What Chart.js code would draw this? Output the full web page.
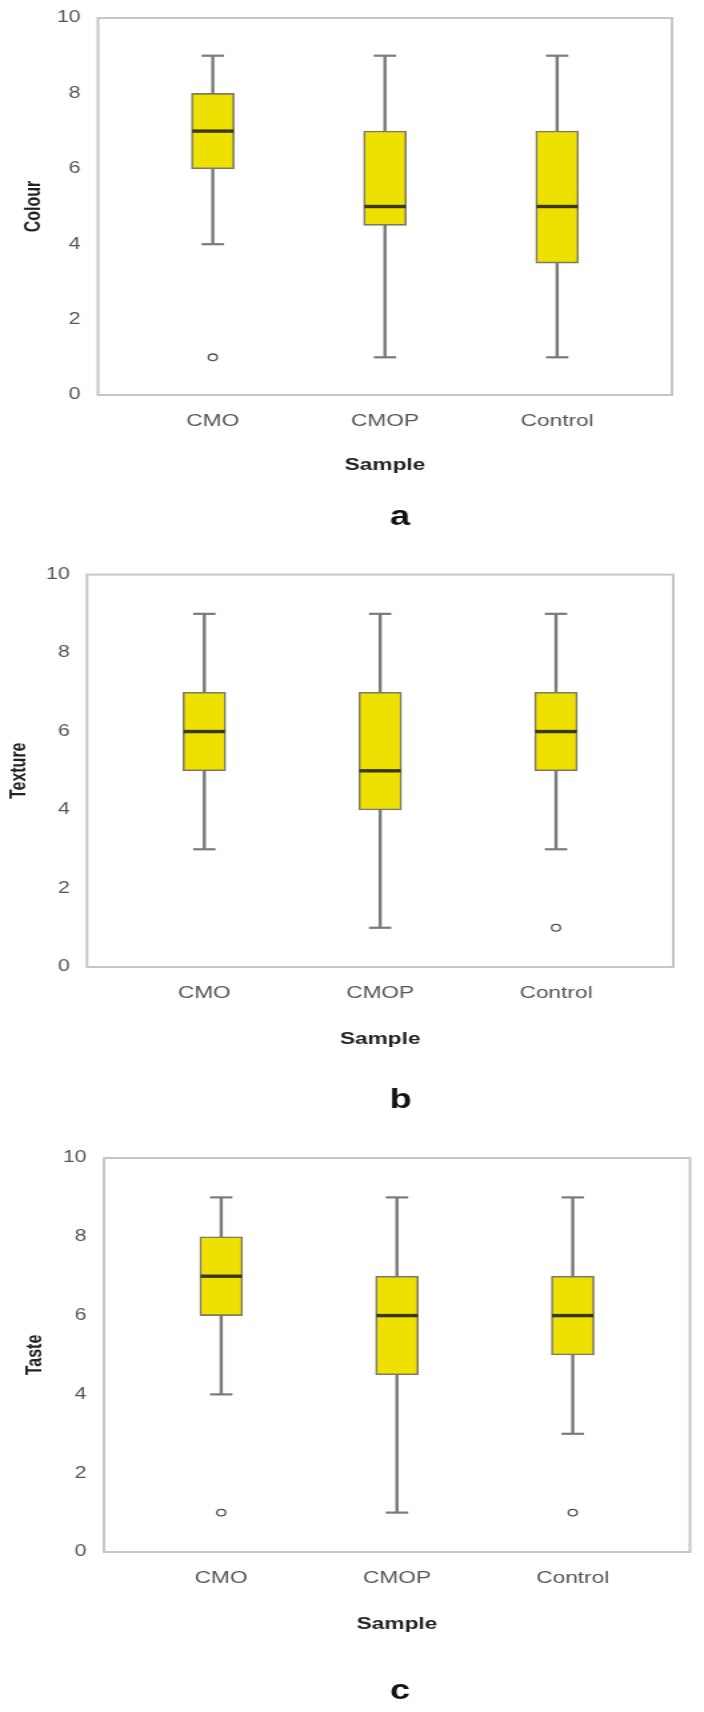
<!DOCTYPE html>
<html>
<head>
<meta charset="utf-8">
<script src="https://cdn.jsdelivr.net/npm/chart.js@4.4.1/dist/chart.umd.min.js"></script>
<style>
  body { margin: 0; background: #fff; width: 704px; height: 1712px; position: relative; overflow: hidden; }
  canvas { position: absolute; left: 0; }
</style>
</head>
<body>
<!-- the original figure is stretched sideways, so each canvas is drawn narrow and widened by css -->
<canvas id="colourChart" width="528" height="560" style="top:0px;width:704px;height:560px"></canvas>
<canvas id="textureChart" width="528" height="560" style="top:560px;width:704px;height:560px"></canvas>
<canvas id="tasteChart" width="528" height="592" style="top:1120px;width:704px;height:592px"></canvas>
<script>
const samples = ['CMO', 'CMOP', 'Control'];
const yTicks = [0, 2, 4, 6, 8, 10];

// Colour scores
const colourMin = [4, 1, 1];
const colourQ1 = [6, 4.5, 3.5];
const colourMedian = [7, 5, 5];
const colourQ3 = [8, 7, 7];
const colourMax = [9, 9, 9];
const colourOutliers = [[1], [], []];

// Texture scores
const textureMin = [3, 1, 3];
const textureQ1 = [5, 4, 5];
const textureMedian = [6, 5, 6];
const textureQ3 = [7, 7, 7];
const textureMax = [9, 9, 9];
const textureOutliers = [[], [], [1]];

// Taste scores
const tasteMin = [4, 1, 3];
const tasteQ1 = [6, 4.5, 5];
const tasteMedian = [7, 6, 6];
const tasteQ3 = [8, 7, 7];
const tasteMax = [9, 9, 9];
const tasteOutliers = [[1], [], [1]];

const FONT = "'Liberation Sans', Arial, sans-serif";
Chart.defaults.font.family = FONT;

// grey frame round the plot area
const frame = {
    id: 'frame',
    beforeDatasetsDraw(chart) {
        const { ctx, chartArea: a } = chart;
        ctx.save();
        ctx.strokeStyle = '#c6c6c6';
        ctx.lineWidth = 2;
        ctx.strokeRect(a.left, a.top, a.right - a.left, a.bottom - a.top);
        ctx.restore();
    }
};

// whiskers behind the boxes, medians on top
function boxDetails(min, median, max) {
    return {
        id: 'boxDetails',
        beforeDatasetsDraw(chart) {
            const { ctx, scales: { x, y } } = chart;
            ctx.save();
            ctx.strokeStyle = '#7a7a7a';
            samples.forEach((s, i) => {
                const px = x.getPixelForValue(i);
                ctx.lineWidth = 2.4;
                ctx.beginPath();
                ctx.moveTo(px, y.getPixelForValue(min[i]));
                ctx.lineTo(px, y.getPixelForValue(max[i]));
                ctx.stroke();
                ctx.lineWidth = 2.2;
                [min[i], max[i]].forEach(v => {
                    const py = y.getPixelForValue(v);
                    ctx.beginPath();
                    ctx.moveTo(px - 8.4, py);
                    ctx.lineTo(px + 8.4, py);
                    ctx.stroke();
                });
            });
            ctx.restore();
        },
        afterDatasetsDraw(chart) {
            const { ctx, scales: { x, y } } = chart;
            ctx.save();
            ctx.strokeStyle = '#3a3708';
            ctx.lineWidth = 3.4;
            samples.forEach((s, i) => {
                const px = x.getPixelForValue(i);
                const py = y.getPixelForValue(median[i]);
                ctx.beginPath();
                ctx.moveTo(px - 15.5, py);
                ctx.lineTo(px + 15.5, py);
                ctx.stroke();
            });
            ctx.restore();
        }
    };
}

// panel letter under each chart
function panelLetter(letter, lx, ly) {
    return {
        id: 'panelLetter',
        afterDraw(chart) {
            const ctx = chart.ctx;
            ctx.save();
            ctx.font = 'bold 27px ' + FONT;
            ctx.fillStyle = '#111';
            ctx.textAlign = 'center';
            ctx.textBaseline = 'middle';
            ctx.fillText(letter, lx, ly);
            ctx.restore();
        }
    };
}

function createBoxChart(id, yTitle, min, q1, median, q3, max, outliers, look) {
    const boxes = samples.map((s, i) => ({ x: i, y: [q1[i], q3[i]] }));
    const points = [];
    outliers.forEach((list, i) => list.forEach(v => points.push({ x: i, y: v })));

    return new Chart(document.getElementById(id), {
        type: 'bar',
        data: {
            datasets: [{
                type: 'bar',
                data: boxes,
                backgroundColor: '#eee000',
                borderColor: '#7c7a66',
                borderWidth: 1.6,
                borderSkipped: false,
                barThickness: 32
            }, {
                type: 'scatter',
                data: points,
                pointRadius: 3.3,
                pointBorderWidth: 1.3,
                pointBorderColor: '#555',
                pointBackgroundColor: '#fff'
            }]
        },
        plugins: [frame, boxDetails(min, median, max), panelLetter(look.letter, look.letterX, look.letterY)],
        options: {
            responsive: false,
            animation: false,
            layout: { padding: { top: look.top, right: look.right, bottom: look.bottom, left: 0 } },
            plugins: { legend: { display: false }, tooltip: { enabled: false } },
            scales: {
                x: {
                    type: 'linear',
                    offset: false,
                    min: -0.667,
                    max: 2.667,
                    grid: { display: false, offset: false },
                    border: { display: false },
                    afterBuildTicks: axis => { axis.ticks = samples.map((s, i) => ({ value: i })); },
                    ticks: {
                        autoSkip: false,
                        maxRotation: 0,
                        padding: 8,
                        color: '#555',
                        font: { size: 17 },
                        callback: v => samples[v]
                    },
                    title: {
                        display: true,
                        text: 'Sample',
                        color: '#222',
                        font: { size: 17, weight: 'bold' },
                        padding: { top: look.sampleGap, bottom: 0 }
                    }
                },
                y: {
                    min: 0,
                    max: 10,
                    grid: { display: false },
                    border: { display: false },
                    afterBuildTicks: axis => { axis.ticks = yTicks.map(v => ({ value: v })); },
                    afterFit: scale => { scale.width = look.left; },
                    ticks: { padding: 5, color: '#555', font: { size: 16 } },
                    title: {
                        display: true,
                        text: yTitle,
                        color: '#222',
                        font: { size: 16, weight: 'bold' },
                        padding: { top: look.titleGap, bottom: 0 }
                    }
                }
            }
        }
    });
}

createBoxChart('colourChart', 'Colour', colourMin, colourQ1, colourMedian, colourQ3, colourMax, colourOutliers,
    { top: 18, right: 24, bottom: 84.8, left: 73.5, sampleGap: 15.4, titleGap: 16, letter: 'a', letterX: 300, letterY: 518 });
createBoxChart('textureChart', 'Texture', textureMin, textureQ1, textureMedian, textureQ3, textureMax, textureOutliers,
    { top: 14, right: 23, bottom: 70.8, left: 65.3, sampleGap: 17.4, titleGap: 5.4, letter: 'b', letterX: 300.5, letterY: 541 });
createBoxChart('tasteChart', 'Taste', tasteMin, tasteQ1, tasteMedian, tasteQ3, tasteMax, tasteOutliers,
    { top: 38, right: 10.5, bottom: 77.8, left: 78, sampleGap: 17.4, titleGap: 17.4, letter: 'c', letterX: 300, letterY: 572 });
</script>
</body>
</html>
